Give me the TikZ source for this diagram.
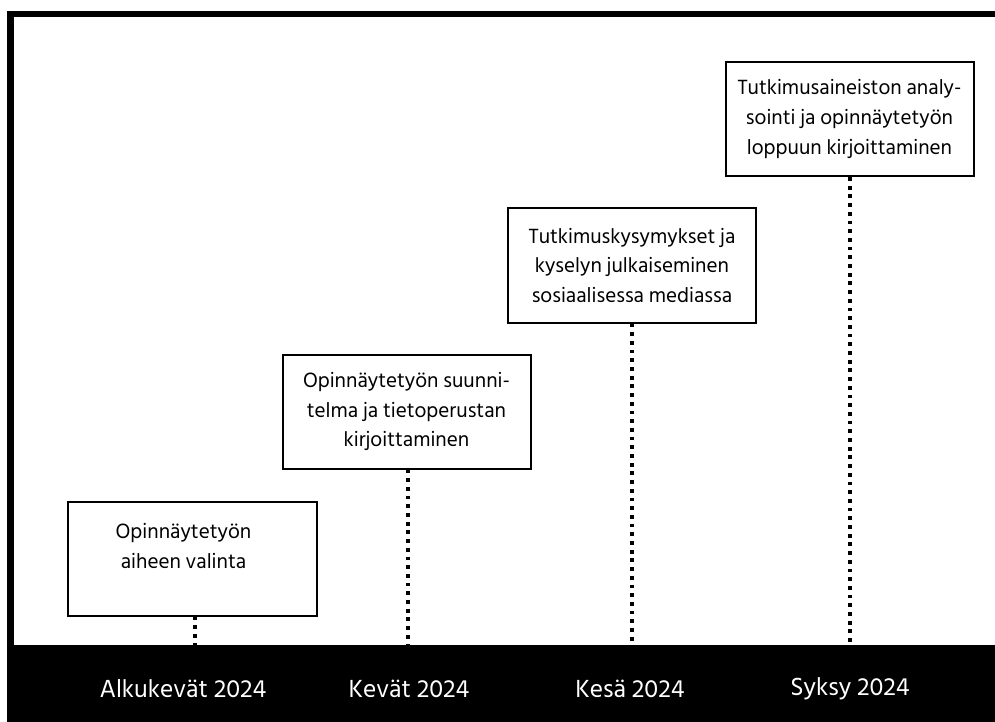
\documentclass[tikz,border=0pt]{standalone}
\usepackage{fontspec}
\setmainfont{Hind Siliguri}
\begin{document}
\begin{tikzpicture}[x=1bp,y=-1bp,
  stagebox/.style={draw=black,line width=2bp,fill=white,minimum width=248bp,minimum height=114bp,align=center,font=\fontsize{21.2}{30}\selectfont,inner sep=0pt},
  tick/.style={line width=3.8bp,dash pattern=on 3.8bp off 4.9bp},
  season/.style={text=white,font=\fontsize{25.5}{28}\selectfont}]
\useasboundingbox (0,0) rectangle (995,722);
% frame
\fill[black] (7,11) rectangle (995,17);
\fill[black] (7,11) rectangle (14,646);
\fill[black] (7,645) rectangle (995,722);
% time axis anchors
\coordinate (t1) at (195,645);
\coordinate (t2) at (408,645);
\coordinate (t3) at (632,645);
\coordinate (t4) at (850,645);
% boxes
\node[stagebox] (b1) at (192.5,558.5) {\mbox{Opinnäytetyön\hspace{18bp}}\\\mbox{aiheen valinta\hspace{18bp}}\\[-14bp]\strut};
\node[stagebox] (b2) at (406.5,411.5) {Opinnäytetyön suunni-\\telma ja tietoperustan\\kirjoittaminen};
\node[stagebox] (b3) at (632,265.5) {Tutkimuskysymykset ja\\kyselyn julkaiseminen\\sosiaalisessa mediassa};
\node[stagebox] (b4) at (849.5,119) {Tutkimusaineiston analy-\\sointi ja opinnäytetyön\\loppuun kirjoittaminen};
% dotted connectors
\draw[tick] (b1.south -| t1) -- (t1);
\draw[tick] (b2.south -| t2) -- (t2);
\draw[tick] (b3.south -| t3) -- (t3);
\draw[tick] (b4.south -| t4) -- (t4);
% season labels
\node[season] (s1) at (183,689) {Alkukevät 2024};
\node[season] (s2) at (409,689) {Kevät 2024};
\node[season] (s3) at (630,689) {Kesä 2024};
\node[season] (s4) at (850,689) {Syksy 2024};
\end{tikzpicture}
\end{document}
